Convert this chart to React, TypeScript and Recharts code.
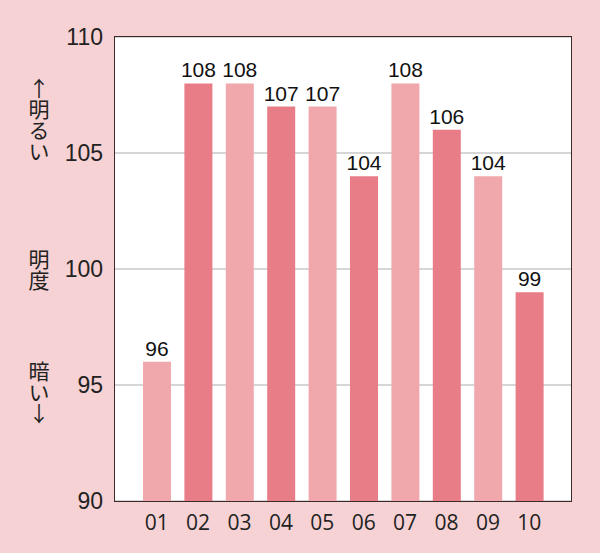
import React from 'react';
import { BarChart, Bar, XAxis, YAxis, CartesianGrid, LabelList, Cell } from 'recharts';

const categories = ['01', '02', '03', '04', '05', '06', '07', '08', '09', '10'];
const brightness = [96, 108, 108, 107, 107, 104, 108, 106, 104, 99];
const yTicks = [90, 95, 100, 105, 110];

const data = categories.map((name, i) => ({ name, value: brightness[i] }));

const LIGHT = '#f1a8ac';
const DARK = '#e87d88';
const BG = '#f6d2d4';
const FRAME = '#3a2a2a';
const NUM_FONT = '"Liberation Sans Narrow", "Liberation Sans", Arial, sans-serif';

const sideLabel: React.CSSProperties = {
  position: 'absolute',
  left: 27,
  writingMode: 'vertical-rl',
  textOrientation: 'upright',
  fontFamily: '"Noto Sans CJK JP", sans-serif',
  fontSize: 21,
  lineHeight: '24px',
  color: '#222',
  letterSpacing: 0,
};

export default function App() {
  return (
    <div style={{ position: 'fixed', top: 0, left: 0, width: 600, height: 553, background: BG }}>
      <BarChart width={600} height={553} data={data} margin={{ top: 37, right: 29, left: 0, bottom: 0 }}>
        <CartesianGrid horizontal vertical={false} stroke="#c9c9c9" strokeWidth={1.5} fill="#ffffff" />
        <XAxis
          dataKey="name"
          height={52}
          padding={{ left: 21, right: 21 }}
          axisLine={false}
          tickLine={false}
          tickMargin={8}
          tick={{ fontSize: 21, fill: '#222', fontFamily: '"Open Sans", sans-serif' }}
        />
        <YAxis
          width={115}
          domain={[90, 110]}
          ticks={yTicks}
          allowDataOverflow
          axisLine={false}
          tickLine={false}
          tickMargin={6}
          tick={{ fontSize: 23, fill: '#222', fontFamily: NUM_FONT }}
        />
        <Bar dataKey="value" barSize={28} isAnimationActive={false}>
          {data.map((d, i) => (
            <Cell key={d.name} fill={i % 2 === 0 ? LIGHT : DARK} />
          ))}
          <LabelList dataKey="value" position="top" offset={6} fill="#111" fontSize={21} fontFamily={NUM_FONT} />
        </Bar>
      </BarChart>
      {/* plot frame */}
      <div
        style={{
          position: 'absolute',
          left: 114,
          top: 36,
          width: 456,
          height: 464,
          border: `1.5px solid ${FRAME}`,
          pointerEvents: 'none',
        }}
      />
      <div style={{ ...sideLabel, top: 78 }}>↑明るい</div>
      <div style={{ ...sideLabel, top: 249 }}>明度</div>
      <div style={{ ...sideLabel, top: 361 }}>暗い↓</div>
    </div>
  );
}
